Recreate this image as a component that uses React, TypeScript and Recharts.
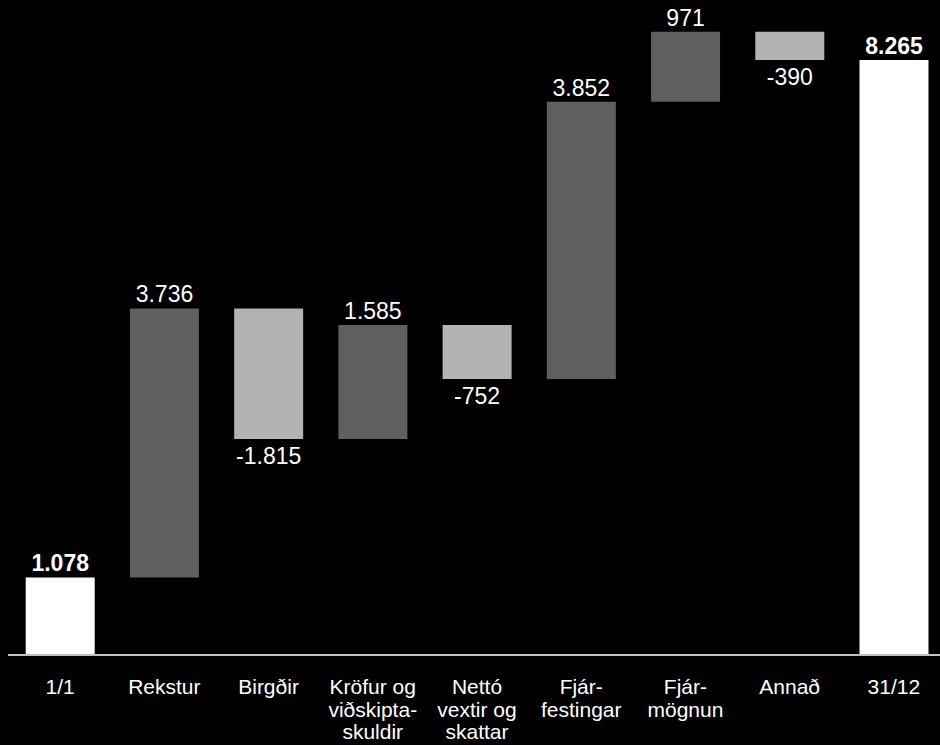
import React from 'react';
import { BarChart, Bar, XAxis, YAxis, Cell, LabelList } from 'recharts';

// category labels, split into the lines shown under the axis
const categories: string[][] = [
  ['1/1'],
  ['Rekstur'],
  ['Birgðir'],
  ['Kröfur og', 'viðskipta-', 'skuldir'],
  ['Nettó', 'vextir og', 'skattar'],
  ['Fjár-', 'festingar'],
  ['Fjár-', 'mögnun'],
  ['Annað'],
  ['31/12'],
];

// opening balance, movements, closing balance
const amounts = [1078, 3736, -1815, 1585, -752, 3852, 971, -390, 8265];
const kinds = ['total', 'move', 'move', 'move', 'move', 'move', 'move', 'move', 'total'];

const colors = { total: '#ffffff', up: '#5f5f5f', down: '#b3b3b3' };

const fmt = (v: number) => {
  const s = Math.abs(v).toString().replace(/\B(?=(\d{3})+(?!\d))/g, '.');
  return v < 0 ? '-' + s : s;
};

let running = 0;
const rows = amounts.map((v, i) => {
  let base = 0;
  let size = v;
  if (kinds[i] === 'total') {
    running = v;
  } else {
    base = Math.min(running, running + v);
    size = Math.abs(v);
    running += v;
  }
  return { key: String(i), base, size, value: v, kind: kinds[i] };
});

const barColor = (r: typeof rows[number]) =>
  r.kind === 'total' ? colors.total : r.value < 0 ? colors.down : colors.up;

const ValueLabel = (props: any) => {
  const { x, y, width, height, index } = props;
  const r = rows[index];
  const below = r.value < 0 && r.kind !== 'total';
  const cx = x + width / 2;
  const ty = below ? y + height + 17 : y - 14;
  return (
    <text
      x={cx}
      y={ty}
      textAnchor="middle"
      dominantBaseline="central"
      fill="#ffffff"
      fontSize={23}
      fontWeight={r.kind === 'total' ? 'bold' : 'normal'}
      fontFamily="'Liberation Sans', Arial, sans-serif"
    >
      {fmt(r.value)}
    </text>
  );
};

const CategoryTick = (props: any) => {
  const { x, y, payload } = props;
  const lines = categories[Number(payload.value)] || [];
  return (
    <text
      x={x}
      y={y}
      textAnchor="middle"
      fill="#ffffff"
      fontSize={21}
      fontFamily="'Liberation Sans', Arial, sans-serif"
    >
      {lines.map((l, i) => (
        <tspan key={i} x={x} dy={i === 0 ? 31 : 22.5}>
          {l}
        </tspan>
      ))}
    </text>
  );
};

export default function App() {
  return (
    <div
      style={{
        position: 'absolute',
        left: 0,
        top: 0,
        width: 940,
        height: 745,
        overflow: 'hidden',
        background: '#000000',
      }}
    >
      <BarChart
        width={946}
        height={745}
        data={rows}
        margin={{ top: 7, right: 0, bottom: 0, left: 8 }}
        barCategoryGap="17%"
      >
        <XAxis
          dataKey="key"
          height={90}
          tickLine={false}
          axisLine={{ stroke: '#c0c0c0', strokeWidth: 2 }}
          tick={<CategoryTick />}
          interval={0}
        />
        <YAxis hide domain={[0, 9000]} />
        <Bar dataKey="base" stackId="w" fill="transparent" isAnimationActive={false} />
        <Bar dataKey="size" stackId="w" isAnimationActive={false}>
          {rows.map((r, i) => (
            <Cell key={i} fill={barColor(r)} />
          ))}
          <LabelList dataKey="size" content={<ValueLabel />} />
        </Bar>
      </BarChart>
    </div>
  );
}
